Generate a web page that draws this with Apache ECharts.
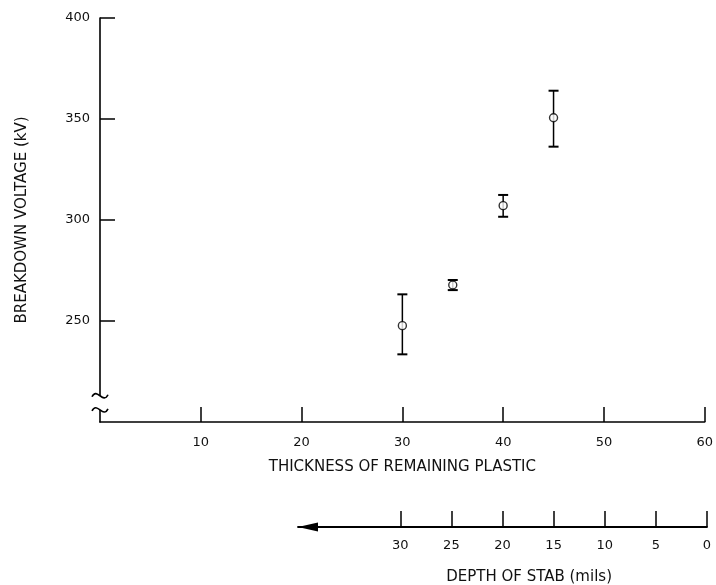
<!DOCTYPE html>
<html><head><meta charset="utf-8">
<script src="https://cdn.jsdelivr.net/npm/echarts@6/dist/echarts.min.js"></script>
<style>html,body{margin:0;padding:0;background:#fff}#c{width:716px;height:585px}</style>
</head><body><div id="c"></div>
<script>
const thickness = [30, 35, 40, 45];
const voltage = [247.7, 267.8, 307.1, 350.6];
const voltageHigh = [263.2, 270.3, 312.4, 364.0];
const voltageLow = [233.5, 265.3, 301.6, 336.3];
const yTicks = [250, 300, 350, 400];
const xTicks = [10, 20, 30, 40, 50, 60];
const depthTicks = [0, 5, 10, 15, 20, 25, 30];

const FONT = 'DejaVu Sans';
const INK = '#111';
const chart = echarts.init(document.getElementById('c'));

const points = thickness.map((t, i) => [t, voltage[i]]);
const bars = thickness.map((t, i) => [t, voltageLow[i], voltageHigh[i]]);

chart.setOption({
  animation: false,
  backgroundColor: '#fff',
  grid: [
    {left: 100, right: 9, top: 18, bottom: 163},
    {left: 298, right: 9, top: 500, bottom: 58}
  ],
  xAxis: [
    {
      gridIndex: 0, type: 'value', min: 0, max: 60, interval: 10,
      name: 'THICKNESS OF REMAINING PLASTIC', nameLocation: 'middle', nameGap: 38,
      nameTextStyle: {fontFamily: FONT, fontSize: 15, color: INK},
      axisLine: {lineStyle: {color: '#000', width: 1.6}},
      axisTick: {inside: true, length: 15, lineStyle: {color: '#000', width: 1.5}, customValues: xTicks},
      axisLabel: {fontFamily: FONT, fontSize: 13, color: INK, margin: 14, customValues: xTicks},
      splitLine: {show: false}
    },
    {
      gridIndex: 1, type: 'value', min: 0, max: 40, interval: 5, inverse: true,
      axisLine: {lineStyle: {color: '#000', width: 1.8}, symbol: ['triangle', 'none'], symbolSize: [9, 20], symbolOffset: [10, 0]},
      axisTick: {inside: true, length: 16, lineStyle: {color: '#000', width: 1.5}, customValues: depthTicks},
      axisLabel: {fontFamily: FONT, fontSize: 13, color: INK, margin: 12, customValues: depthTicks},
      splitLine: {show: false}
    }
  ],
  yAxis: [
    {
      gridIndex: 0, type: 'value', min: 200, max: 400, interval: 50,
      name: 'BREAKDOWN VOLTAGE (kV)', nameLocation: 'middle', nameGap: 70,
      nameTextStyle: {fontFamily: FONT, fontSize: 15, color: INK},
      axisLine: {lineStyle: {color: '#000', width: 1.6}},
      axisTick: {inside: true, length: 15, lineStyle: {color: '#000', width: 1.5}, customValues: yTicks},
      axisLabel: {fontFamily: FONT, fontSize: 13, color: INK, margin: 10, customValues: yTicks},
      splitLine: {show: false}
    },
    {gridIndex: 1, type: 'value', show: false, min: 0, max: 1}
  ],
  series: [
    {
      type: 'custom', xAxisIndex: 0, yAxisIndex: 0, data: bars,
      renderItem: function (params, api) {
        const x = api.value(0);
        const pLo = api.coord([x, api.value(1)]);
        const pHi = api.coord([x, api.value(2)]);
        const w = 5;
        const st = {stroke: '#000', lineWidth: 1.5};
        const cs = {stroke: '#000', lineWidth: 2};
        return {type: 'group', children: [
          {type: 'line', shape: {x1: pHi[0], y1: pHi[1], x2: pLo[0], y2: pLo[1]}, style: st},
          {type: 'line', shape: {x1: pHi[0] - w, y1: pHi[1], x2: pHi[0] + w, y2: pHi[1]}, style: cs},
          {type: 'line', shape: {x1: pLo[0] - w, y1: pLo[1], x2: pLo[0] + w, y2: pLo[1]}, style: cs}
        ]};
      }
    },
    {
      type: 'scatter', xAxisIndex: 0, yAxisIndex: 0, data: points,
      symbol: 'circle', symbolSize: 8, z: 5,
      itemStyle: {color: '#fff', borderColor: '#000', borderWidth: 1.4}
    }
  ]
});

// axis break symbol on the voltage axis
const pTop = chart.convertToPixel({gridIndex: 0}, [0, 213]);
const pBot = chart.convertToPixel({gridIndex: 0}, [0, 206]);
function tilde(p) {
  return {
    type: 'bezierCurve', z: 100,
    shape: {x1: p[0] - 8, y1: p[1] + 1, cpx1: p[0] - 3, cpy1: p[1] - 9, cpx2: p[0] + 3, cpy2: p[1] + 9, x2: p[0] + 8, y2: p[1] - 1},
    style: {stroke: '#000', lineWidth: 1.6, fill: null}
  };
}
chart.setOption({
  graphic: [
    {type: 'rect', z: 99, shape: {x: pTop[0] - 4, y: pTop[1], width: 8, height: pBot[1] - pTop[1]}, style: {fill: '#fff'}},
    tilde(pTop),
    tilde(pBot),
    (function () {
      const p = chart.convertToPixel({xAxisIndex: 1, yAxisIndex: 1}, [17.4, 0]);
      return {type: 'text', x: p[0], y: 577, style: {text: 'DEPTH OF STAB (mils)', font: '15px "DejaVu Sans"', fill: INK, align: 'center', verticalAlign: 'middle'}};
    })()
  ]
});
</script>
</body></html>
